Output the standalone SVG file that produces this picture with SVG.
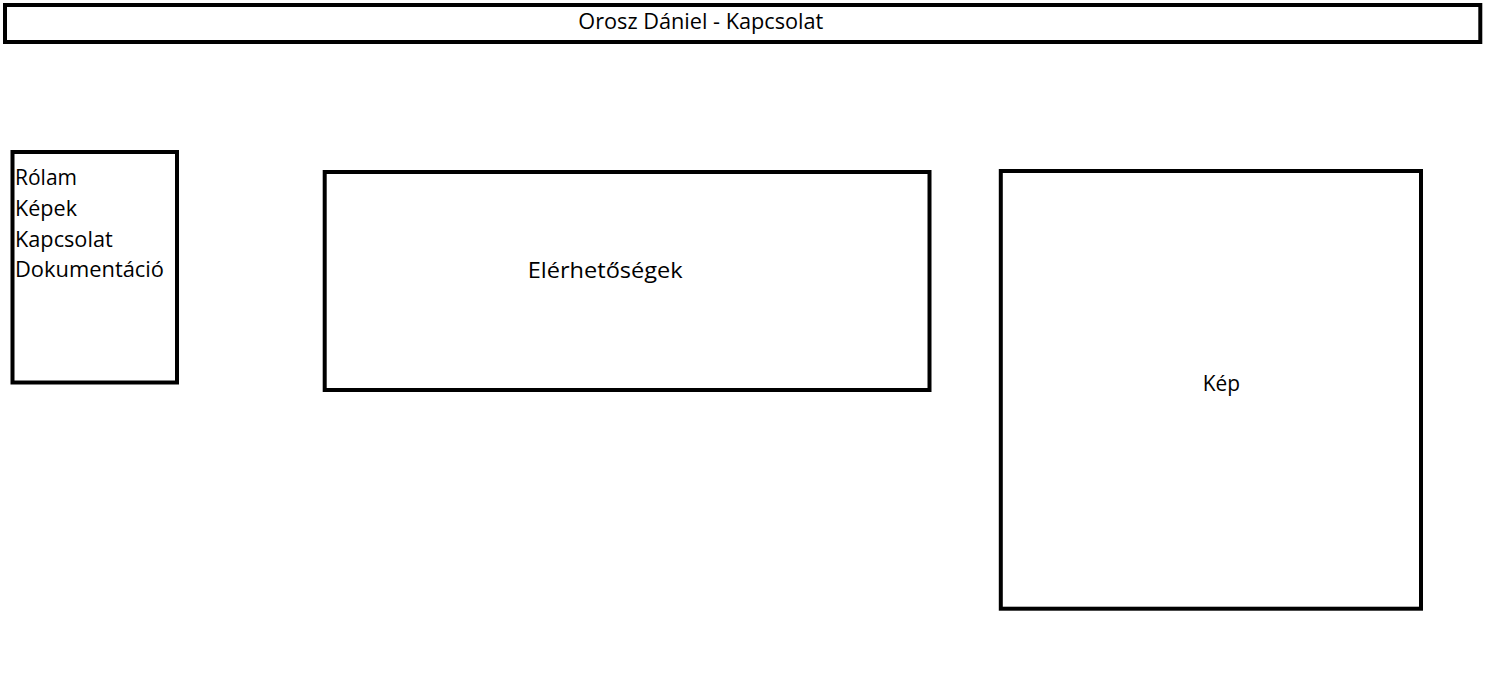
<svg xmlns="http://www.w3.org/2000/svg" width="1500" height="680" viewBox="0 0 1500 680">
<style>
.box{fill:#fff;stroke:#000;stroke-width:4}
.t{font-family:"Open Sans","Noto Sans","Liberation Sans",sans-serif;font-size:21px;fill:#000}
</style>
<rect width="1500" height="680" fill="#fff"/>
<g id="header">
<rect class="box" x="5" y="5" width="1475.3" height="37"/>
<text class="t" x="578.3" y="29.3" textLength="245" lengthAdjust="spacingAndGlyphs">Orosz Dániel - Kapcsolat</text>
</g>
<g id="nav">
<rect class="box" x="12.5" y="152" width="164.5" height="230.5"/>
<text class="t" x="15" y="185" textLength="62" lengthAdjust="spacingAndGlyphs">Rólam</text>
<text class="t" x="15" y="216" textLength="62" lengthAdjust="spacingAndGlyphs">Képek</text>
<text class="t" x="15" y="246.7" textLength="97.7" lengthAdjust="spacingAndGlyphs">Kapcsolat</text>
<text class="t" x="15" y="277.3" textLength="149" lengthAdjust="spacingAndGlyphs">Dokumentáció</text>
</g>
<g id="contacts">
<rect class="box" x="324.7" y="172" width="604.8" height="218"/>
<text class="t" x="527.7" y="278.3" textLength="155" lengthAdjust="spacingAndGlyphs">Elérhetőségek</text>
</g>
<g id="image">
<rect class="box" x="1000.8" y="171" width="420.2" height="437.7"/>
<text class="t" x="1202.7" y="390.7" textLength="37.3" lengthAdjust="spacingAndGlyphs">Kép</text>
</g>
<g id="connectors"/>
</svg>
